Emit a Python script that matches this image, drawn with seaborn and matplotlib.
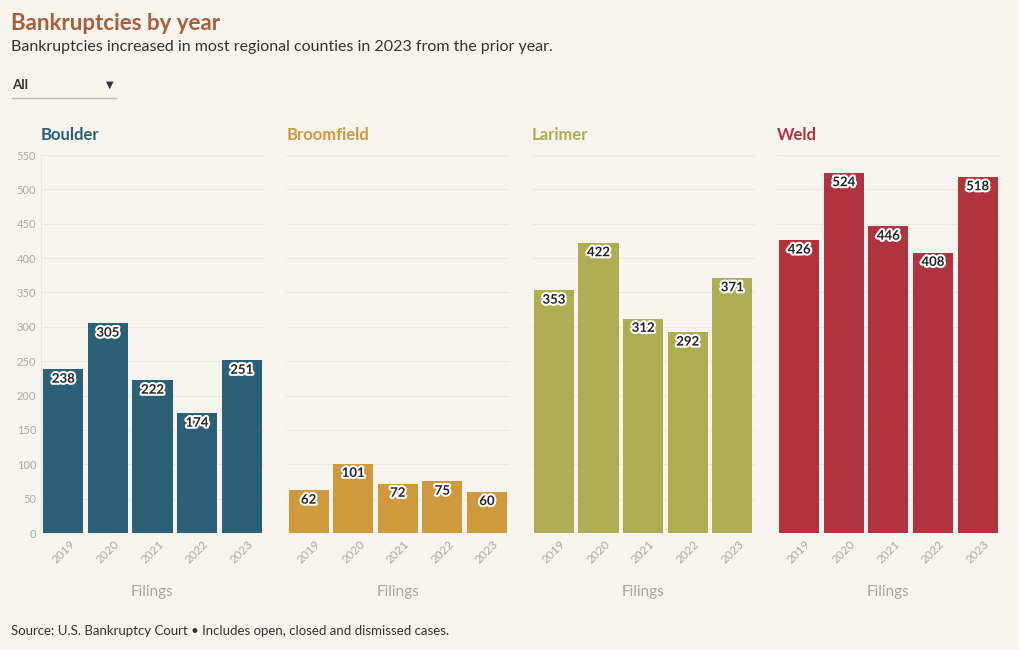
import pandas as pd
import seaborn as sns
import matplotlib.pyplot as plt
import matplotlib.patheffects as pe
from matplotlib.lines import Line2D

sns.set_style('white')
plt.rcParams['font.family'] = ['Lato', 'DejaVu Sans']

years = ['2019', '2020', '2021', '2022', '2023']
counties = ['Boulder', 'Broomfield', 'Larimer', 'Weld']
boulder = [238, 305, 222, 174, 251]
broomfield = [62, 101, 72, 75, 60]
larimer = [353, 422, 312, 292, 371]
weld = [426, 524, 446, 408, 518]
colors = ['#2b6077', '#cf9a3e', '#adae52', '#b0343f']

rows = []
for county, vals in zip(counties, [boulder, broomfield, larimer, weld]):
    for y, v in zip(years, vals):
        rows.append({'county': county, 'year': y, 'filings': v})
df = pd.DataFrame(rows)

bg = '#f7f4ee'
fig = plt.figure(figsize=(10.2, 6.5), dpi=100, facecolor=bg)

W, H = 1020, 650
for i, county in enumerate(counties):
    left = 41 + i * 245.3
    ax = fig.add_axes([left / W, 1 - 533 / H, 223 / W, 378 / H], facecolor=bg)
    sub = df[df['county'] == county]
    sns.barplot(data=sub, x='year', y='filings', color=colors[i], width=0.9,
                saturation=1, linewidth=0, ax=ax)
    ax.set_xlim(-0.5, 4.5)
    ax.set_ylim(0, 550)
    ax.set_yticks(range(0, 551, 50))
    ax.grid(axis='y', color='#ebe6de', linewidth=0.8)
    ax.set_axisbelow(True)
    for s in ['top', 'right', 'bottom']:
        ax.spines[s].set_visible(False)
    ax.spines['left'].set_visible(i == 0)
    ax.spines['left'].set_color('#ebe6de')
    ax.tick_params(axis='x', labelrotation=45, labelsize=8.5, colors='#aeaaa4',
                   length=0, pad=4)
    ax.tick_params(axis='y', labelsize=8, colors='#aeaaa4', length=0)
    if i > 0:
        ax.set_yticklabels([])
    ax.set_ylabel('')
    ax.set_xlabel('Filings', fontsize=11, color='#aaa6a0', labelpad=14)
    labels = ax.bar_label(ax.containers[0], padding=-11, fontsize=9.5,
                          fontweight='bold', color='#222222')
    for t in labels:
        t.set_path_effects([pe.withStroke(linewidth=3, foreground='white')])
    ax.set_title(county, loc='left', fontsize=12, fontweight='bold',
                 color=colors[i], pad=11)

fig.text(11 / W, 1 - 24 / H, 'Bankruptcies by year', fontsize=16,
         fontweight='bold', color='#a65f3c', va='center')
fig.text(11 / W, 1 - 47 / H,
         'Bankruptcies increased in most regional counties in 2023 from the prior year.',
         fontsize=11.5, color='#333333', va='center')
fig.text(12 / W, 1 - 85 / H, 'All', fontsize=9.5, fontweight='bold',
         color='#333333', va='center')
fig.text(110 / W, 1 - 85 / H, '\u25bc', fontsize=7, color='#333333',
         va='center', ha='center', family=['DejaVu Sans'])
fig.add_artist(Line2D([12 / W, 116 / W], [1 - 98 / H, 1 - 98 / H],
                      color='#bbbbbb', linewidth=1))
fig.text(11 / W, 1 - 631 / H,
         'Source: U.S. Bankruptcy Court \u2022 Includes open, closed and dismissed cases.',
         fontsize=9.5, color='#333333', va='center')

fig.savefig('out.png', dpi=100, facecolor=bg)
